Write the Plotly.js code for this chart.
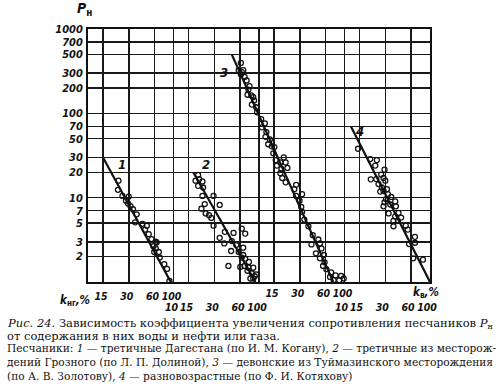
<!DOCTYPE html>
<html><head><meta charset="utf-8">
<script src="https://cdn.plot.ly/plotly-3.0.1.min.js"></script>
<style>html,body{margin:0;padding:0;background:#fff}#chart{width:500px;height:391px}</style>
</head><body><div id="chart"></div>
<script>
// ---- data (k in %, Pн) ----
const s1K = [22.7, 22.4, 25.3, 30, 27.8, 29.4, 31.4, 33.6, 37.1, 35.6, 43.4, 48.8, 46.4, 51.3, 55.4, 62, 63.5, 58.3, 62, 59.5, 67.4, 69.1, 78.1, 84.1, 89.7];
const s1P = [15.9, 12.4, 10.5, 10.3, 9.2, 8.5, 7.95, 7.3, 6.35, 5.1, 4.9, 4.66, 4.17, 3.7, 3.23, 3.0, 2.94, 2.66, 2.5, 2.27, 2.27, 1.95, 1.63, 1.43, 1.03];

const s2K = [19.4, 20, 18.1, 21.8, 19.4, 22.2, 21.8, 29.4, 23.2, 34.7, 21.2, 23.8, 26, 27.7, 29.4, 62.9, 39.9, 50.4, 69, 34.7, 48.1, 39.3, 54.2, 47.2, 65.4, 57.9, 65.4, 62.9, 69, 43.9, 60.4, 76.2, 67.9, 75.2, 85.6, 73.4, 82.5, 89, 79.3, 85.6, 92.6];
const s2P = [18.6, 16.6, 15.9, 15.6, 13.8, 13.2, 10.5, 10.5, 8.4, 8.2, 7.4, 6.5, 6.2, 5.75, 4.66, 4.29, 3.93, 3.82, 3.75, 3.34, 3.06, 2.87, 2.74, 2.33, 2.55, 2.27, 2.09, 1.95, 1.89, 1.55, 1.51, 1.73, 1.55, 1.48, 1.48, 1.36, 1.27, 1.17, 1.1, 1.1, 1.23];

const s3K = [6.14, 5.79, 6.29, 6.54, 6.14, 6.79, 7.17, 7.75, 7.52, 7.34, 8.12, 8.56, 8.76, 8.25, 9.26, 9.48, 10.6, 11.7, 10.8, 12.2, 11.9, 13.4, 12.8, 14.1, 15.1, 14.7, 15.7, 19.5, 17.8, 20.5, 16.2, 18.3, 21.5, 17.8, 18.7, 20.5, 27.2, 25.9, 31.9, 27.2, 29.8, 31.2, 31.9, 33.9, 37.8, 42.5, 49.4, 41.1, 51.6, 53.8, 46.3, 57.5, 51.6, 58.5, 56.1, 61.3, 69.7, 78.6, 67.7, 91.4, 97.9, 74.7, 86.8];
const s3P = [396, 325, 308, 325, 289, 270, 245, 210, 191, 166, 163, 156, 142, 127, 118, 103, 85.5, 76, 68.2, 60, 52.7, 49, 43, 40.6, 39.8, 33.6, 27.9, 30, 26.2, 26.2, 24, 21.9, 22.5, 19.5, 17.1, 15.2, 14.2, 12.6, 11, 10.5, 9.2, 7.75, 6.8, 5.5, 4.58, 3.59, 3.19, 2.79, 2.87, 2.5, 2.19, 2.09, 1.91, 1.71, 1.55, 1.42, 1.3, 1.2, 1.15, 1.18, 1.1, 1.05, 1.05];

const s4K = [14.4, 20, 23.9, 22.9, 29.4, 26.9, 28.6, 20.3, 23.5, 25, 30, 27.4, 31.4, 28.6, 26.2, 32.2, 35.2, 30.6, 29.4, 39.2, 34.3, 28.6, 39.9, 32.8, 42.8, 39.2, 45.9, 37.4, 42.1, 37.4, 52.1, 54.9, 66.6, 56.9, 66.6, 63.7, 82.8];
const s4P = [38, 28.7, 27.9, 24, 21.5, 18.8, 17.1, 16.5, 16.6, 14.5, 15.9, 13.2, 12.6, 12, 11.8, 11, 10.2, 9.6, 8.8, 9.03, 8.3, 7.9, 7.9, 6.5, 6.6, 6.0, 5.8, 5.3, 5.3, 4.58, 4.66, 4.18, 3.43, 2.82, 2.92, 1.91, 1.84];

// fitted straight lines (end points)
const fit1K = [15, 93],   fit1P = [30, 1];
const fit2K = [17, 91],   fit2P = [20, 1];
const fit3K = [4.8, 74],  fit3P = [500, 1];
const fit4K = [11.9, 100], fit4P = [70, 1];

const seriesNames = ['1', '2', '3', '4'];

// tick labels
const yTickVals = [2, 3, 5, 7, 10, 20, 30, 50, 70, 100, 200, 300, 500, 700, 1000];
const yTickText = ['2', '3', '5', '7', '10', '20', '30', '50', '70', '100', '200', '300', '500', '700', '1000'];
const row1Vals = [15, 30, 60, 100];
const row1Text = ['15', '30', '60', '100'];
const row2Vals = [10, 15, 30, 60, 100];
const row2Text = ['10', '15', '30', '60', '100'];

const yAxisTitle = '<i>P</i><sub>н</sub>';
const xLabelLeft = '<i>k</i><sub>нг</sub><i>,%</i>';
const xLabelRight = '<i>k</i><sub>в</sub><i>,%</i>';

const captionHead = ['<i>Рис. 24.</i> Зависимость коэффициента увеличения сопротивления песчаников <i>P</i><sub>н</sub>',
                     'от содержания в них воды и нефти или газа.'];
const captionHeadPlain = 'Рис. 24. Зависимость коэффициента увеличения сопротивления песчаников Pн';
const captionNotes = ['Песчаники: <i>1</i> — третичные Дагестана (по И. М. Когану), <i>2</i> — третичные из месторож-',
                      'дений Грозного (по Л. П. Долиной), <i>3</i> — девонские из Туймазинского месторождения',
                      '(по А. В. Золотову), <i>4</i> — разновозрастные (по Ф. И. Котяхову)'];
const captionNotesPlain = ['Песчаники: 1 — третичные Дагестана (по И. М. Когану), 2 — третичные из месторож-',
                           'дений Грозного (по Л. П. Долиной), 3 — девонские из Туймазинского месторождения'];

// ---- layout helpers ----
const W = 500, H = 391, L = 88, R = 70, T = 29, B = 109;
const PW = W - L - R, PH = H - T - B;
const px = x => (x - L) / PW;
const py = y => (H - B - y) / PH;

function fitSize(text, family, target) {
  const c = document.createElement('canvas').getContext('2d');
  c.font = '100px ' + family;
  return 100 * target / c.measureText(text).width;
}
const serif = "'DejaVu Serif'";
const headSize = Math.min(13, fitSize(captionHeadPlain, serif, 488));
const noteSize = Math.min(11, ...captionNotesPlain.map(t => fitSize(t, serif, 490)));

const numFamily = "'DejaVu Sans Condensed', 'Liberation Sans Narrow', 'DejaVu Sans', sans-serif";
const numFont = {family: numFamily, size: 10.5, color: '#111', style: 'italic', weight: 'bold'};
const yFont = {family: numFamily, size: 11, color: '#111', style: 'italic', weight: 'bold'};

const ks = [s1K, s2K, s3K, s4K], ps = [s1P, s2P, s3P, s4P];
const fk = [fit1K, fit2K, fit3K, fit4K], fp = [fit1P, fit2P, fit3P, fit4P];
const axIds = ['x', 'x2', 'x3', 'x4'];

const traces = [];
for (let i = 0; i < 4; i++) {
  traces.push({x: fk[i], y: fp[i], xaxis: axIds[i], yaxis: 'y', mode: 'lines', name: seriesNames[i],
               line: {color: '#111', width: 2.2}, hoverinfo: 'skip'});
  traces.push({x: ks[i], y: ps[i], xaxis: axIds[i], yaxis: 'y', mode: 'markers', name: seriesNames[i],
               marker: {symbol: 'circle-open', size: 5, color: '#111', line: {width: 1.3}}});
}

const gridStyle = {showgrid: true, gridcolor: '#1a1a1a', gridwidth: 1.5, zeroline: false, ticks: '', tickangle: 0};
function xa(i, vals, text, standoff, extra) {
  return Object.assign({type: 'log', range: [1 - i, 5 - i], domain: [0, 1], tickmode: 'array',
    tickvals: vals, ticktext: text, tickfont: numFont, ticklabelstandoff: standoff}, gridStyle, extra || {});
}

const annFont = s => ({family: numFamily, size: s, color: '#111', weight: 'bold'});

const layout = {
  width: W, height: H,
  margin: {l: L, r: R, t: T, b: B, pad: 0},
  paper_bgcolor: '#fff', plot_bgcolor: '#fff',
  showlegend: false, hovermode: false,
  xaxis: xa(0, row1Vals, row1Text, 3, {showline: true, mirror: true, linecolor: '#111', linewidth: 2, anchor: 'y', ticklabelshift: -2}),
  xaxis2: xa(1, row2Vals, row2Text, 17, {overlaying: 'x', anchor: 'y', showline: false, ticklabelshift: -2}),
  xaxis3: xa(2, row1Vals, row1Text, 3, {overlaying: 'x', anchor: 'y', showline: false, ticklabelshift: -2}),
  xaxis4: xa(3, row2Vals, row2Text, 17, {overlaying: 'x', anchor: 'y', showline: false, ticklabelshift: -3}),
  yaxis: Object.assign({type: 'log', range: [0, 3], tickmode: 'array', tickvals: yTickVals, ticktext: yTickText,
    tickfont: yFont, showline: true, mirror: true, linecolor: '#111', linewidth: 2, ticklabelstandoff: 1}, gridStyle),
  annotations: [
    {text: yAxisTitle, xref: 'paper', yref: 'paper', x: px(94), y: py(9), xanchor: 'right', yanchor: 'middle', showarrow: false, font: annFont(14)},
    {text: xLabelLeft, xref: 'paper', yref: 'paper', x: px(92), y: py(300), xanchor: 'right', yanchor: 'middle', showarrow: false, font: annFont(11.5)},
    {text: xLabelRight, xref: 'paper', yref: 'paper', x: px(411), y: py(302), xanchor: 'left', yanchor: 'bottom', showarrow: false, font: annFont(11.5)},
    {text: '<i>' + seriesNames[0] + '</i>', xref: 'paper', yref: 'paper', x: px(116), y: py(164), showarrow: false, font: annFont(13)},
    {text: '<i>' + seriesNames[1] + '</i>', xref: 'paper', yref: 'paper', x: px(200), y: py(164), showarrow: false, font: annFont(13)},
    {text: '<i>' + seriesNames[2] + '</i>', xref: 'paper', yref: 'paper', x: px(224), y: py(63), showarrow: false, font: annFont(13)},
    {text: '<i>' + seriesNames[3] + '</i>', xref: 'paper', yref: 'paper', x: px(366), y: py(131), showarrow: false, font: annFont(13)},
    {text: captionHead[0], xref: 'paper', yref: 'paper', x: px(5), y: py(323), xanchor: 'left', yanchor: 'middle', showarrow: false,
     font: {family: serif, size: headSize, color: '#111'}},
    {text: captionHead[1], xref: 'paper', yref: 'paper', x: px(5), y: py(336), xanchor: 'left', yanchor: 'middle', showarrow: false,
     font: {family: serif, size: headSize, color: '#111'}},
    {text: captionNotes.join('<br>'), xref: 'paper', yref: 'paper', x: px(5), y: py(362), xanchor: 'left', yanchor: 'middle',
     align: 'left', showarrow: false, font: {family: serif, size: noteSize, color: '#111'}}
  ]
};

Plotly.newPlot('chart', traces, layout, {staticPlot: true, displayModeBar: false});
</script></body></html>
